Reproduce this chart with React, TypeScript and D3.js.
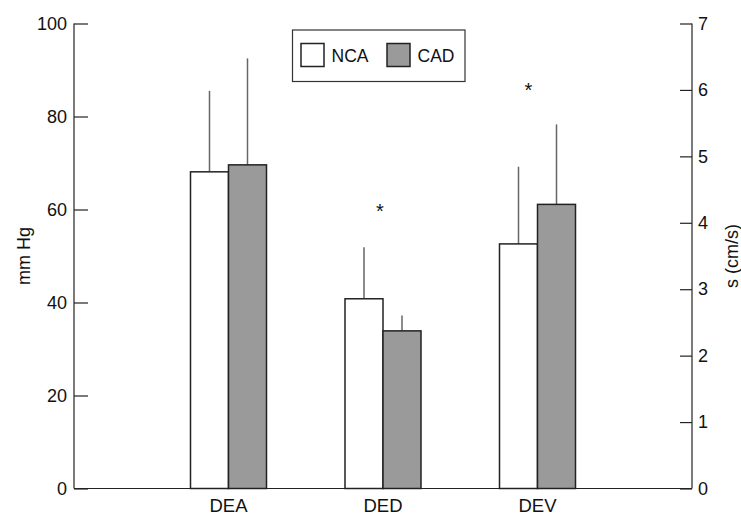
import React, { useEffect, useRef } from "react";
import * as d3 from "d3";

const categories = ["DEA", "DED", "DEV"];
const series = ["NCA", "CAD"];
const ncaMean = [68.1, 40.8, 52.6];
const ncaErr = [85.5, 51.9, 69.2];
const cadMean = [69.6, 33.9, 61.1];
const cadErr = [92.5, 37.2, 78.3];
// significance markers: [category, value on mm Hg scale, x offset]
const stars = [
  { cat: "DED", value: 60.1, dx: -3 },
  { cat: "DEV", value: 86.1, dx: -9 },
];
const leftTicks = [0, 20, 40, 60, 80, 100];
const rightTicks = [0, 1, 2, 3, 4, 5, 6, 7];

const App = () => {
  const svgRef = useRef(null);
  const width = 741;
  const height = 515;

  useEffect(() => {
    const svg = d3.select(svgRef.current);
    svg.selectAll("*").remove();

    const left = 74;
    const right = 692;
    const top = 23.5;
    const bottom = 488.5;
    const font = "'Liberation Sans', Arial, Helvetica, sans-serif";
    const fs = 18;

    const x = d3.scalePoint().domain(categories).range([left, right]).padding(1);
    const y = d3.scaleLinear().domain([0, 100]).range([bottom, top]);
    const y2 = d3.scaleLinear().domain([0, 7]).range([bottom, top]);
    const barW = 38;

    const data = categories.flatMap((c, i) => [
      { cat: c, s: "NCA", mean: ncaMean[i], err: ncaErr[i], off: -barW },
      { cat: c, s: "CAD", mean: cadMean[i], err: cadErr[i], off: 0 },
    ]);

    // error lines (drawn first so the bar edge covers their base)
    svg
      .append("g")
      .selectAll("line")
      .data(data)
      .join("line")
      .attr("x1", (d) => x(d.cat) + d.off + barW / 2)
      .attr("x2", (d) => x(d.cat) + d.off + barW / 2)
      .attr("y1", (d) => y(d.mean))
      .attr("y2", (d) => y(d.err))
      .attr("stroke", "#666")
      .attr("stroke-width", 1.5);

    svg
      .append("g")
      .selectAll("rect")
      .data(data)
      .join("rect")
      .attr("x", (d) => x(d.cat) + d.off)
      .attr("y", (d) => y(d.mean))
      .attr("width", barW)
      .attr("height", (d) => bottom - y(d.mean))
      .attr("fill", (d) => (d.s === "NCA" ? "#fff" : "#9a9a9a"))
      .attr("stroke", "#222")
      .attr("stroke-width", 1.5);

    // left axis
    const gl = svg.append("g").attr("transform", `translate(${left},0)`);
    gl.call(d3.axisLeft(y).tickValues(leftTicks).tickSize(-14).tickPadding(7));
    gl.select(".domain").remove();
    gl.append("line")
      .attr("x1", 0)
      .attr("x2", 0)
      .attr("y1", top)
      .attr("y2", bottom)
      .attr("stroke", "#222")
      .attr("stroke-width", 1.2);

    // right axis
    const gr = svg.append("g").attr("transform", `translate(${right},0)`);
    gr.call(
      d3
        .axisRight(y2)
        .tickValues(rightTicks)
        .tickSize(-12)
        .tickPadding(6)
        .tickFormat(d3.format("d"))
    );
    gr.select(".domain").remove();
    gr.append("line")
      .attr("x1", 0)
      .attr("x2", 0)
      .attr("y1", top)
      .attr("y2", bottom)
      .attr("stroke", "#222")
      .attr("stroke-width", 1.2);

    [gl, gr].forEach((g) => {
      g.selectAll(".tick line").attr("stroke", "#222").attr("stroke-width", 1.2);
      g.selectAll(".tick text")
        .attr("font-family", font)
        .attr("font-size", fs)
        .attr("fill", "#111");
    });

    // bottom axis
    svg
      .append("line")
      .attr("x1", left)
      .attr("x2", right)
      .attr("y1", bottom)
      .attr("y2", bottom)
      .attr("stroke", "#222")
      .attr("stroke-width", 1.2);
    svg
      .append("g")
      .selectAll("text")
      .data(categories)
      .join("text")
      .attr("x", (d) => x(d))
      .attr("y", bottom + 23)
      .attr("text-anchor", "middle")
      .attr("font-family", font)
      .attr("font-size", fs + 0.5)
      .attr("fill", "#111")
      .text((d) => d);

    // axis titles
    svg
      .append("text")
      .attr("transform", `translate(30,${(top + bottom) / 2}) rotate(-90)`)
      .attr("text-anchor", "middle")
      .attr("font-family", font)
      .attr("font-size", fs)
      .attr("fill", "#111")
      .text("mm Hg");
    svg
      .append("text")
      .attr("transform", `translate(738,${(top + bottom) / 2}) rotate(-90)`)
      .attr("text-anchor", "middle")
      .attr("font-family", font)
      .attr("font-size", fs)
      .attr("fill", "#111")
      .text("s (cm/s)");

    // asterisks
    svg
      .append("g")
      .selectAll("text")
      .data(stars)
      .join("text")
      .attr("x", (d) => x(d.cat) + d.dx)
      .attr("y", (d) => y(d.value) + 9)
      .attr("text-anchor", "middle")
      .attr("font-family", font)
      .attr("font-size", 20)
      .attr("fill", "#111")
      .text("*");

    // legend
    const lg = svg.append("g");
    lg.append("rect")
      .attr("x", 292.5)
      .attr("y", 30)
      .attr("width", 172.5)
      .attr("height", 51.5)
      .attr("fill", "#fff")
      .attr("stroke", "#333")
      .attr("stroke-width", 1.2);
    const items = lg
      .selectAll("g")
      .data(series)
      .join("g")
      .attr("transform", (d, i) => `translate(${301 + i * 86},43.5)`);
    items
      .append("rect")
      .attr("width", 23)
      .attr("height", 23)
      .attr("fill", (d) => (d === "NCA" ? "#fff" : "#9a9a9a"))
      .attr("stroke", "#222")
      .attr("stroke-width", 1.5);
    items
      .append("text")
      .attr("x", 30.5)
      .attr("y", 18.8)
      .attr("font-family", font)
      .attr("font-size", 17.5)
      .attr("fill", "#111")
      .text((d) => d);
  }, []);

  return (
    <svg
      ref={svgRef}
      width={width}
      height={height}
      style={{ position: "absolute", left: 0, top: 0, background: "#fff" }}
    ></svg>
  );
};

export default App;
